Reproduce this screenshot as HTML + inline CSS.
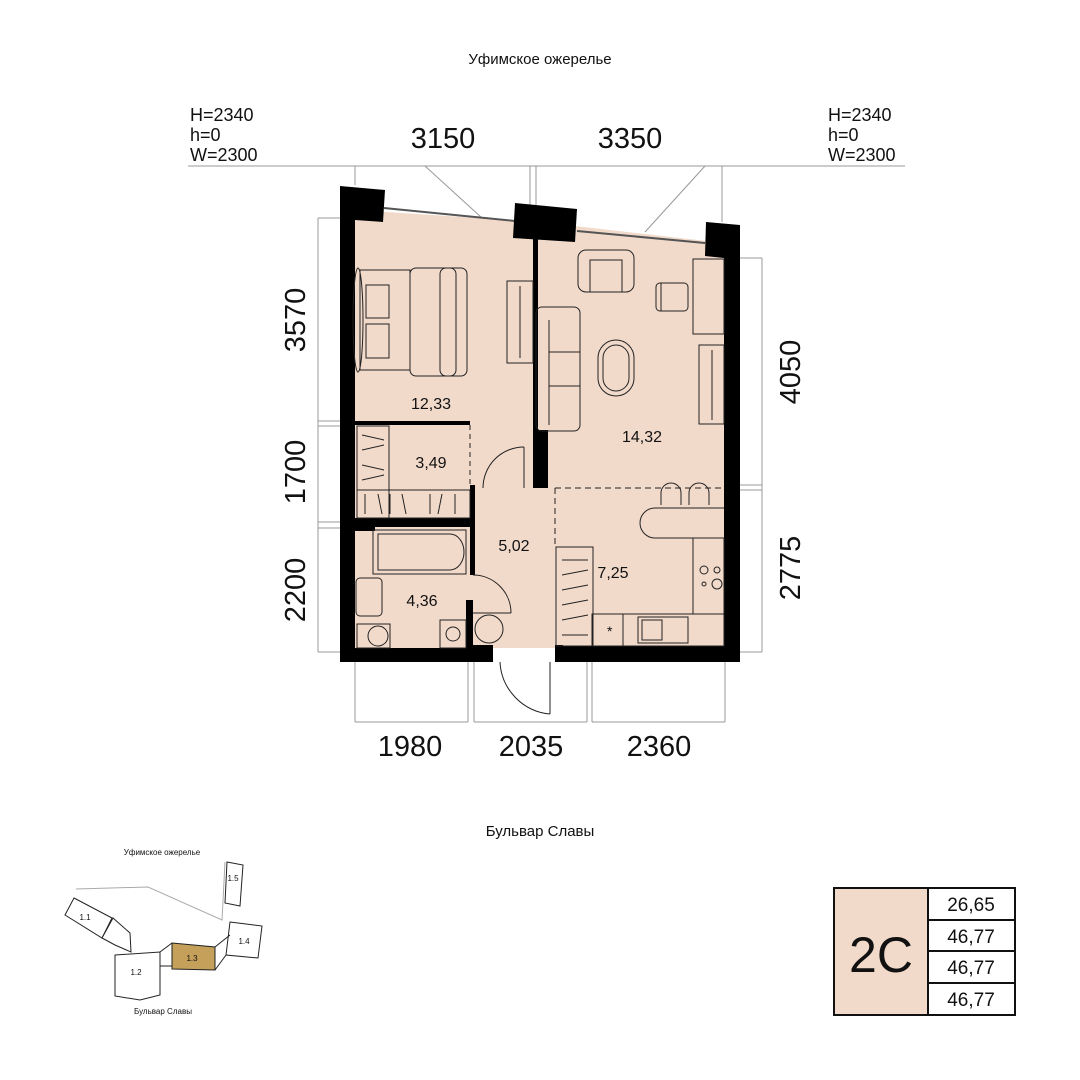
<!DOCTYPE html><html><head><meta charset="utf-8"><style>body{margin:0;background:#fff}svg{display:block}text{font-family:"Liberation Sans",sans-serif;fill:#111}</style></head><body>
<svg width="1080" height="1080" viewBox="0 0 1080 1080" xmlns="http://www.w3.org/2000/svg">
<text x="540" y="64" font-size="15" text-anchor="middle">Уфимское ожерелье</text>
<text x="540" y="836" font-size="15" text-anchor="middle">Бульвар Славы</text>
<g font-size="18"><text x="190" y="121">H=2340</text><text x="190" y="141">h=0</text><text x="190" y="161">W=2300</text>
<text x="828" y="121">H=2340</text><text x="828" y="141">h=0</text><text x="828" y="161">W=2300</text></g>
<g stroke="#999" stroke-width="1" fill="none">
<line x1="188" y1="166" x2="905" y2="166"/>
<line x1="355" y1="166" x2="355" y2="185"/><line x1="530" y1="166" x2="530" y2="205"/><line x1="536" y1="166" x2="536" y2="205"/><line x1="722" y1="166" x2="722" y2="222"/>
<line x1="425" y1="166" x2="482" y2="218"/><line x1="705" y1="166" x2="645" y2="232"/>
<line x1="318" y1="218" x2="318" y2="652"/><line x1="318" y1="218" x2="340" y2="218"/><line x1="318" y1="421" x2="340" y2="421"/><line x1="318" y1="426" x2="340" y2="426"/><line x1="318" y1="522" x2="340" y2="522"/><line x1="318" y1="528" x2="340" y2="528"/><line x1="318" y1="652" x2="340" y2="652"/>
<line x1="762" y1="258" x2="762" y2="652"/><line x1="740" y1="258" x2="762" y2="258"/><line x1="740" y1="485" x2="762" y2="485"/><line x1="740" y1="490" x2="762" y2="490"/><line x1="740" y1="652" x2="762" y2="652"/>
<line x1="355" y1="722" x2="468" y2="722"/><line x1="474" y1="722" x2="587" y2="722"/><line x1="592" y1="722" x2="725" y2="722"/>
<line x1="355" y1="662" x2="355" y2="722"/><line x1="468" y1="662" x2="468" y2="722"/><line x1="474" y1="662" x2="474" y2="722"/><line x1="587" y1="662" x2="587" y2="722"/><line x1="592" y1="662" x2="592" y2="722"/><line x1="725" y1="662" x2="725" y2="722"/>
</g>
<g font-size="29"><text x="443" y="148" text-anchor="middle">3150</text><text x="630" y="148" text-anchor="middle">3350</text>
<text x="410" y="756" text-anchor="middle">1980</text><text x="531" y="756" text-anchor="middle">2035</text><text x="659" y="756" text-anchor="middle">2360</text>
<text transform="translate(305,320) rotate(-90)" text-anchor="middle">3570</text>
<text transform="translate(305,472) rotate(-90)" text-anchor="middle">1700</text>
<text transform="translate(305,590) rotate(-90)" text-anchor="middle">2200</text>
<text transform="translate(800,372) rotate(-90)" text-anchor="middle">4050</text>
<text transform="translate(800,568) rotate(-90)" text-anchor="middle">2775</text></g>
<polygon points="355,210 540,222 724,243 724,648 355,648" fill="#f2dacb"/>
<line x1="384" y1="208" x2="515" y2="221" stroke="#555" stroke-width="2"/>
<line x1="577" y1="231" x2="705" y2="243" stroke="#555" stroke-width="2"/>
<g fill="#000">
<polygon points="340,186 385,190 383,222 355,220 355,662 340,662"/>
<polygon points="515,203 577,209 575,242 513,238"/>
<polygon points="706,222 740,225 740,662 724,662 724,258 705,256"/>
<rect x="340" y="648" width="153" height="14"/><rect x="555" y="646" width="185" height="16"/>
<rect x="533" y="238" width="5" height="250"/><rect x="533" y="430" width="15" height="58"/>
<rect x="355" y="421" width="115" height="4"/><rect x="355" y="518" width="118" height="9"/>
<rect x="470" y="485" width="5" height="90"/><rect x="355" y="527" width="20" height="4"/>
<rect x="466" y="600" width="7" height="48"/><rect x="473" y="645" width="20" height="17"/>
<rect x="555" y="645" width="8" height="17"/>
</g>
<g stroke="#222" stroke-width="1" fill="none">
<line x1="470" y1="425" x2="470" y2="485" stroke-dasharray="5,4"/>
<line x1="555" y1="488" x2="724" y2="488" stroke-dasharray="6,4"/>
<line x1="555" y1="488" x2="555" y2="545" stroke-dasharray="6,4"/>
<rect x="360" y="270" width="50" height="100"/><rect x="366" y="285" width="23" height="33"/><rect x="366" y="324" width="23" height="34"/>
<rect x="410" y="268" width="46" height="108" rx="6"/><rect x="440" y="268" width="27" height="108" rx="6"/>
<ellipse cx="358" cy="320" rx="5" ry="52"/>
<rect x="507" y="281" width="26" height="82"/><line x1="520" y1="286" x2="520" y2="358"/>
<rect x="536" y="307" width="44" height="124" rx="6"/><line x1="549" y1="320" x2="549" y2="425"/><line x1="549" y1="352" x2="580" y2="352"/><line x1="549" y1="386" x2="580" y2="386"/>
<rect x="598" y="340" width="36" height="56" rx="18"/><rect x="603" y="345" width="26" height="46" rx="13"/>
<rect x="578" y="250" width="56" height="42" rx="8"/><rect x="590" y="260" width="32" height="32"/>
<rect x="656" y="283" width="32" height="28" rx="4"/><line x1="661" y1="283" x2="661" y2="311"/>
<rect x="693" y="259" width="31" height="75"/>
<rect x="699" y="345" width="25" height="79"/><line x1="712" y1="350" x2="712" y2="420"/>
<path d="M724,508 H655 a15,15 0 0 0 0,30 H724"/>
<path d="M661,505 v-12 a10,10 0 0 1 20,0 v12"/><path d="M689,505 v-12 a10,10 0 0 1 20,0 v12"/>
<rect x="693" y="538" width="31" height="76"/><circle cx="704" cy="570" r="4"/><circle cx="717" cy="570" r="3"/><circle cx="704" cy="584" r="2"/><circle cx="717" cy="584" r="5"/>
<rect x="592" y="614" width="132" height="32"/><line x1="623" y1="614" x2="623" y2="646"/>
<rect x="638" y="617" width="50" height="26"/><rect x="642" y="620" width="20" height="20"/>
<text x="607" y="636" font-size="14" stroke="none">*</text>
<rect x="556" y="547" width="37" height="99"/>
<path d="M562,560 H588 M562,575 L588,570 M562,590 L588,585 M562,605 L588,600 M562,620 L588,615 M562,635 H588"/>
<rect x="357" y="426" width="32" height="92"/><rect x="357" y="490" width="113" height="28"/>
<path d="M362,435 L384,440 M362,450 L384,445 M362,465 L384,470 M362,480 L384,475 M365,494 v20 M378,494 l4,20 M390,494 v20 M402,494 l4,20 M430,494 v20 M442,494 l-4,20 M455,494 v20"/>
<rect x="373" y="530" width="93" height="44"/><path d="M378,534 H450 a14,18 0 0 1 0,36 H378 Z"/>
<rect x="356" y="578" width="26" height="38" rx="4"/>
<rect x="357" y="624" width="33" height="24"/><circle cx="378" cy="636" r="10"/>
<rect x="440" y="620" width="26" height="28"/><circle cx="453" cy="634" r="7"/>
<circle cx="489" cy="629" r="14"/>
<path d="M524,447 a41,41 0 0 0 -41,41"/><line x1="524" y1="447" x2="524" y2="488"/>
<path d="M473,575 a38,38 0 0 1 38,38"/><line x1="473" y1="613" x2="511" y2="613"/>
<path d="M550,714 a55,55 0 0 1 -50,-52"/><line x1="550" y1="662" x2="550" y2="714"/>
</g>
<g font-size="16" text-anchor="middle"><text x="431" y="409">12,33</text><text x="431" y="468">3,49</text><text x="642" y="442">14,32</text><text x="514" y="551">5,02</text><text x="613" y="578">7,25</text><text x="422" y="606">4,36</text></g>
<g stroke="#222" stroke-width="1" fill="#fff" font-size="8">
<polyline points="76,889 148,887 222,920 225,862" stroke="#aaa" fill="none"/>
<polygon points="74,898 112,918 102,938 65,915"/><polygon points="113,918 130,933 131,952 115,945 102,938"/>
<polygon points="115,955 160,952 160,995 140,1000 115,996"/>
<polygon points="172,943 215,947 215,970 172,969" fill="#c4a05a"/>
<polygon points="230,922 262,926 258,958 226,955"/>
<polygon points="227,862 243,865 240,906 225,903"/>
<polyline points="160,952 172,943"/><polyline points="215,947 230,935"/><polyline points="215,970 226,955"/><line x1="160" y1="966" x2="172" y2="966"/>
</g>
<g font-size="8" text-anchor="middle"><text x="85" y="920">1.1</text><text x="136" y="975">1.2</text><text x="192" y="961">1.3</text><text x="244" y="944">1.4</text><text x="233" y="881">1.5</text>
<text x="162" y="855">Уфимское ожерелье</text><text x="163" y="1014">Бульвар Славы</text></g>
<rect x="834" y="888" width="94" height="127" fill="#f2dacb" stroke="#111" stroke-width="2"/>
<text x="881" y="972" font-size="50" text-anchor="middle">2С</text>
<g stroke="#111" stroke-width="2" fill="none"><rect x="928" y="888" width="87" height="127"/><line x1="928" y1="920" x2="1015" y2="920"/><line x1="928" y1="951" x2="1015" y2="951"/><line x1="928" y1="983" x2="1015" y2="983"/></g>
<g font-size="19" text-anchor="middle"><text x="971" y="911">26,65</text><text x="971" y="943">46,77</text><text x="971" y="974">46,77</text><text x="971" y="1006">46,77</text></g>
</svg></body></html>
